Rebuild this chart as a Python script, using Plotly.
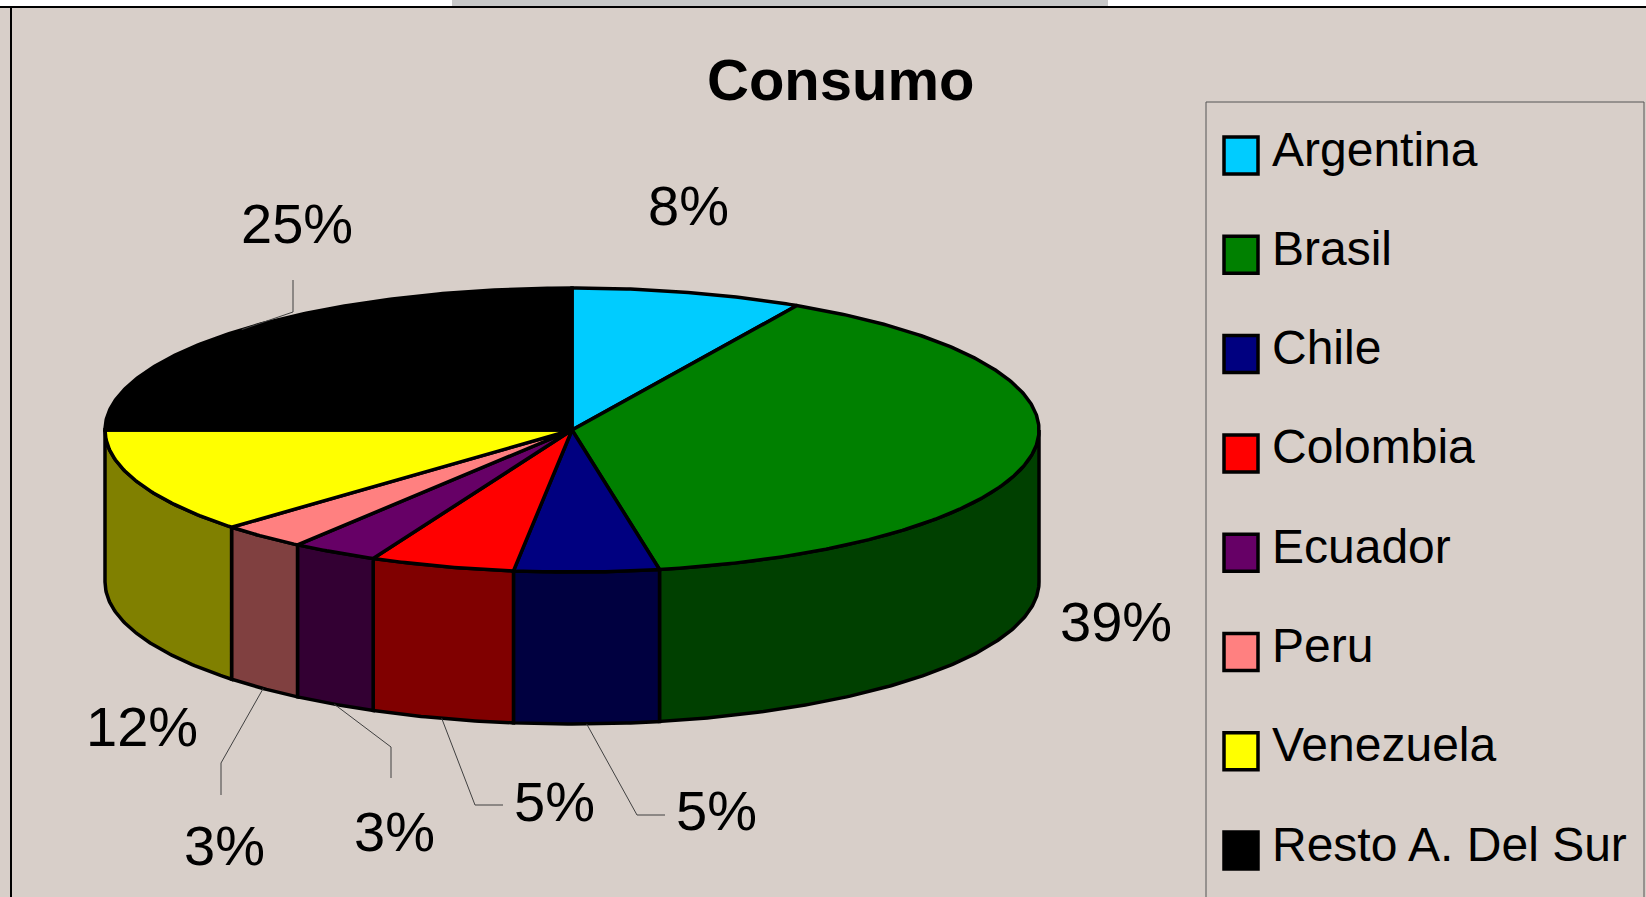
import numpy as np
import plotly.graph_objects as go

# ---------------- data ----------------
categories = ["Argentina", "Brasil", "Chile", "Colombia", "Ecuador", "Peru", "Venezuela", "Resto A. Del Sur"]
values = [8, 39, 5, 5, 3, 3, 12, 25]
label_texts = ["8%", "39%", "5%", "5%", "3%", "3%", "12%", "25%"]
top_colors = ["#00CCFF", "#008000", "#000080", "#FF0000", "#660066", "#FF8080", "#FFFF00", "#000000"]
side_colors = ["#006680", "#004000", "#000040", "#800000", "#330033", "#804040", "#808000", "#000000"]

# ---------------- layout params ----------------
W, H = 1646, 897
BG = "#D8CFC9"
FONT = "Liberation Sans, Arial, sans-serif"
CX, CY = 572, 430      # pie centre (pixels)
RX, RY = 467, 142      # ellipse radii
DEPTH = 152            # pie thickness
# label centres (pixels) and leader elbow/end points (None -> no leader)
label_pos = [(688, 205), (1116, 621), (716, 810), (554, 801), (394, 831), (224, 845), (142, 726), (297, 223)]
leaders = [None, None,
           [(637, 815), (665, 815)],
           [(475, 805), (503, 805)],
           [(391, 747), (391, 778)],
           [(221, 763), (221, 795)],
           None,
           [(293, 312), (293, 280)]]

total = float(sum(values))
cum = np.concatenate([[0], np.cumsum(values)]) / total * 360.0


def pt(theta_deg, dy=0.0):
    t = np.radians(theta_deg)
    return CX + RX * np.sin(t), CY - RY * np.cos(t) + dy


fig = go.Figure()

# side faces (front half: 90..270 deg clockwise from top)
for i, cat in enumerate(categories):
    a0, a1 = cum[i], cum[i + 1]
    s0, s1 = max(a0, 90.0), min(a1, 270.0)
    if s1 <= s0:
        continue
    th = np.linspace(s0, s1, max(int((s1 - s0) * 2), 2))
    xt, yt = pt(th)
    xb, yb = pt(th[::-1], DEPTH)
    xs = np.concatenate([xt, xb, xt[:1]])
    ys = np.concatenate([yt, yb, yt[:1]])
    fig.add_trace(go.Scatter(x=xs, y=ys, mode="lines", fill="toself",
                             fillcolor=side_colors[i],
                             line=dict(color="black", width=3.5),
                             hoverinfo="skip", showlegend=False))

# top faces
for i, cat in enumerate(categories):
    a0, a1 = cum[i], cum[i + 1]
    th = np.linspace(a0, a1, max(int((a1 - a0) * 2), 2))
    xa, ya = pt(th)
    xs = np.concatenate([[CX], xa, [CX]])
    ys = np.concatenate([[CY], ya, [CY]])
    fig.add_trace(go.Scatter(x=xs, y=ys, mode="lines", fill="toself",
                             fillcolor=top_colors[i],
                             line=dict(color="black", width=3.5),
                             name=cat, hoverinfo="name", showlegend=False))

# leader lines
for i, ld in enumerate(leaders):
    if ld is None:
        continue
    mid = (cum[i] + cum[i + 1]) / 2.0
    front = 90.0 < mid < 270.0
    x0, y0 = pt(mid, DEPTH if front else 0.0)
    xs = [x0] + [p[0] for p in ld]
    ys = [y0] + [p[1] for p in ld]
    fig.add_trace(go.Scatter(x=xs, y=ys, mode="lines",
                             line=dict(color="#404040", width=1),
                             hoverinfo="skip", showlegend=False))

annotations = []
for i, txt in enumerate(label_texts):
    lx, ly = label_pos[i]
    annotations.append(dict(x=lx, y=ly, xref="x", yref="y", text=txt, showarrow=False,
                            xanchor="center", yanchor="middle",
                            font=dict(family=FONT, size=56, color="black")))

# title
annotations.append(dict(x=840, y=79, xref="x", yref="y", text="<b>Consumo</b>", showarrow=False,
                        xanchor="center", yanchor="middle",
                        font=dict(family=FONT, size=58, color="black")))

shapes = []
# frame
shapes.append(dict(type="rect", xref="x", yref="y", x0=0, x1=W, y0=0, y1=7,
                   fillcolor="white", line=dict(width=0), layer="above"))
shapes.append(dict(type="rect", xref="x", yref="y", x0=452, x1=1108, y0=0, y1=7,
                   fillcolor="#C8C8C8", line=dict(width=0), layer="above"))
shapes.append(dict(type="line", xref="x", yref="y", x0=0, x1=W, y0=7, y1=7,
                   line=dict(color="black", width=2), layer="above"))
shapes.append(dict(type="line", xref="x", yref="y", x0=11, x1=11, y0=7, y1=H,
                   line=dict(color="black", width=2), layer="above"))
# legend box
shapes.append(dict(type="rect", xref="x", yref="y", x0=1206, x1=1644, y0=102, y1=H + 10,
                   fillcolor="rgba(0,0,0,0)", line=dict(color="#555555", width=1), layer="above"))
LEG_TOP, LEG_STEP = 137, 99.3
for i, cat in enumerate(categories):
    y0 = LEG_TOP + i * LEG_STEP
    shapes.append(dict(type="rect", xref="x", yref="y", x0=1224, x1=1258, y0=y0, y1=y0 + 37,
                       fillcolor=top_colors[i], line=dict(color="black", width=3.5), layer="above"))
    annotations.append(dict(x=1270, y=y0 + 12, xref="x", yref="y", text=cat, showarrow=False,
                            xanchor="left", yanchor="middle",
                            font=dict(family=FONT, size=48, color="black")))

fig.update_layout(
    width=W, height=H,
    margin=dict(l=0, r=0, t=0, b=0),
    paper_bgcolor=BG, plot_bgcolor=BG,
    xaxis=dict(range=[0, W], visible=False, fixedrange=True),
    yaxis=dict(range=[H, 0], visible=False, fixedrange=True),
    shapes=shapes, annotations=annotations,
    showlegend=False,
)

fig.write_html("out.html", config={"displayModeBar": False},
               post_script="document.body.style.margin='0';document.body.style.overflow='hidden';")
